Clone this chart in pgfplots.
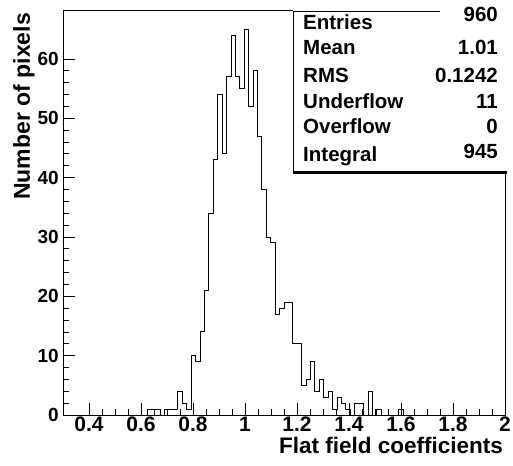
\documentclass[border=0pt]{standalone}
\usepackage{fontspec}
\setmainfont{Liberation Sans}
\usepackage{pgfplots}
\pgfplotsset{compat=1.18}
\begin{document}
\begin{tikzpicture}[x=1bp,y=1bp]
\path[use as bounding box] (0,0) rectangle (513,466);
\begin{axis}[
  at={(63bp,51bp)}, anchor=south west,
  scale only axis, width=442bp, height=405bp,
  xmin=0.3, xmax=2.0, ymin=0, ymax=68.25,
  xtick={0.4,0.6,0.8,1.0,1.2,1.4,1.6,1.8,2.0},
  xticklabels={0.4,0.6,0.8,1,1.2,1.4,1.6,1.8,2},
  minor x tick num=3,
  ytick={0,10,20,30,40,50,60}, minor y tick num=4,
  tick align=inside, xtick pos=bottom, ytick pos=left,
  major tick length=12bp, minor tick length=6bp,
  every tick/.style={black, line width=0.8bp},
  axis line style={line width=0.8bp},
  /pgf/number format/assume math mode=true,
  xticklabel style={font=\fontsize{21bp}{24bp}\selectfont\bfseries, inner sep=0pt, anchor=north, yshift=-2bp},
  yticklabel style={font=\fontsize{19bp}{22bp}\selectfont\bfseries, inner sep=0pt, anchor=east, xshift=-4bp},
  xlabel={Flat field coefficients},
  ylabel={Number of pixels},
  x label style={at={(axis description cs:0.9955,-0.0543)}, anchor=north east, inner sep=0pt, font=\fontsize{22.5bp}{26bp}\selectfont\bfseries},
  y label style={at={(axis description cs:-0.1131,0.9926)}, rotate=0, anchor=north east, inner sep=0pt, font=\fontsize{23bp}{26bp}\selectfont\bfseries},
]
\addplot[const plot, black, line width=0.9bp] coordinates {
(0.589,0) (0.606,0) (0.623,1) (0.640,1) (0.657,1) (0.674,0) (0.691,1) (0.708,1)
(0.725,1) (0.742,4) (0.759,2) (0.776,1) (0.793,10) (0.810,9) (0.827,14)
(0.844,21) (0.861,34) (0.878,43) (0.895,54) (0.912,44) (0.929,57) (0.946,64)
(0.963,57) (0.980,55) (0.997,65) (1.014,52) (1.031,58) (1.048,47) (1.065,38)
(1.082,30) (1.099,29) (1.116,17) (1.133,18) (1.150,19) (1.167,19) (1.184,12)
(1.201,12) (1.218,5) (1.235,6) (1.252,9) (1.269,4) (1.286,6) (1.303,3)
(1.320,4) (1.337,1) (1.354,3) (1.371,2) (1.388,1) (1.405,0) (1.422,2)
(1.439,2) (1.456,0) (1.473,4) (1.490,0) (1.507,1) (1.524,0) (1.541,0)
(1.558,0) (1.575,0) (1.592,1) (1.609,0) (1.626,0)
};
\end{axis}
% statistics box
\fill[white] (293,294) rectangle (508,456);
\draw[line width=0.8bp] (293,294) -- (293,454.3) -- (440,454.3);
\draw[line width=2.4bp] (293,293.3) -- (507,293.3);
\begin{scope}[every node/.style={inner sep=0pt, font=\fontsize{20.5bp}{24bp}\selectfont\bfseries}]
\node[anchor=base west] at (303,436.7) {Entries};
\node[anchor=base west] at (303,411) {Mean};
\node[anchor=base west] at (303,383.3) {RMS};
\node[anchor=base west] at (303,357) {Underflow};
\node[anchor=base west] at (303,332.7) {Overflow};
\node[anchor=base west] at (303,304.3) {Integral};
\node[anchor=base east] at (498,444.3) {960};
\node[anchor=base east] at (498,411) {1.01};
\node[anchor=base east] at (498,383.3) {0.1242};
\node[anchor=base east] at (498,357) {11};
\node[anchor=base east] at (498,332.7) {0};
\node[anchor=base east] at (498,307.7) {945};
\end{scope}
\end{tikzpicture}
\end{document}
